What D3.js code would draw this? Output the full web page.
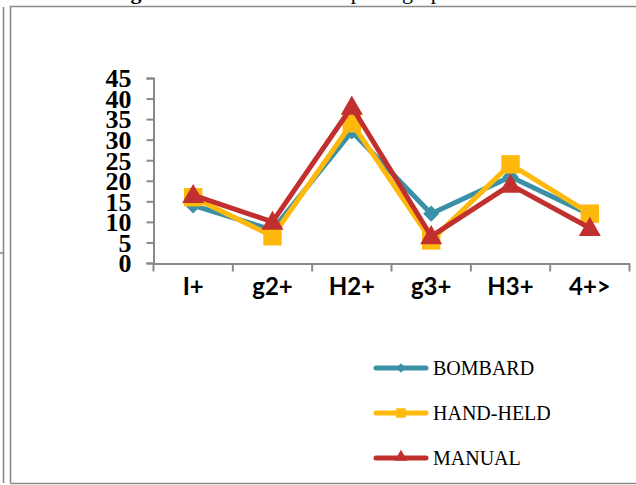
<!DOCTYPE html>
<html>
<head>
<meta charset="utf-8">
<script src="https://cdn.jsdelivr.net/npm/d3@7"></script>
<style>
  html, body { margin: 0; padding: 0; background: #fff; }
  svg { display: block; }
</style>
</head>
<body>
<svg id="chart" width="636" height="485"></svg>
<script>
// ---- data ----
const categories = ["I+", "g2+", "H2+", "g3+", "H3+", "4+>"];
const bombard   = [14, 8, 32, 12, 21, 11.8];
const handHeld  = [16, 6.5, 34, 5.5, 24, 12];
const manual    = [16.5, 10, 38, 6.5, 19, 8.5];
const seriesNames = ["BOMBARD", "HAND-HELD", "MANUAL"];
const yTicks = [0, 5, 10, 15, 20, 25, 30, 35, 40, 45];
const titleRegular = "Table 3: ";
const titleBold = "Long";
const titleRest = " effects of methods on spotting Species";

// ---- styles ----
const colors = ["#3A91A7", "#FFB90C", "#C1302E"];
const shapes = [d3.symbolSquare, d3.symbolSquare, d3.symbolTriangle];
const rotations = [45, 0, 0];
const seriesData = [bombard, handHeld, manual];

const svg = d3.select("#chart");

// page frame lines
const frame = svg.append("g").attr("stroke", "#8a8a8a").attr("stroke-width", 1.6).attr("fill", "none");
frame.append("line").attr("x1", 3.5).attr("y1", 7).attr("x2", 3.5).attr("y2", 483);
frame.append("line").attr("x1", 0).attr("y1", 253).attr("x2", 4).attr("y2", 253);
frame.append("path").attr("d", "M10.5,483.5 V6.5 H640 M10.5,483.5 H640");

// cut-off title (only its lowest pixels show)
const title = svg.append("text")
  .attr("x", 16).attr("y", -1.5)
  .attr("font-family", "Liberation Serif, Times New Roman, serif")
  .attr("font-size", 22)
  .attr("fill", "#000");
title.append("tspan").text(titleRegular);
title.append("tspan").attr("font-weight", "bold").text(titleBold);
title.append("tspan").text(titleRest);

// scales
const x = d3.scaleBand().domain(categories).range([153.5, 629.5]).padding(0);
const y = d3.scaleLinear().domain([0, 45]).range([263, 78]);

// y axis
const yAxis = svg.append("g").attr("transform", "translate(153.5,0)")
  .call(d3.axisLeft(y).tickValues(yTicks).tickSize(7).tickPadding(15).tickFormat(d3.format("d")));
yAxis.select(".domain").attr("stroke", "#898989").attr("stroke-width", 2);
yAxis.selectAll(".tick line").attr("stroke", "#898989").attr("stroke-width", 2);
yAxis.selectAll(".tick text")
  .attr("font-family", "Liberation Serif, Times New Roman, serif")
  .attr("font-weight", "bold")
  .attr("font-size", 26)
  .attr("fill", "#000")
  .attr("dy", "0.34em");

// x axis
const xAxis = svg.append("g").attr("transform", "translate(0,263.5)")
  .call(d3.axisBottom(x).tickSize(0).tickPadding(0).tickSizeOuter(0));
xAxis.select(".domain").attr("stroke", "#898989").attr("stroke-width", 2);
xAxis.selectAll(".tick line").remove();
const bounds = categories.map(c => x(c)).concat([x.range()[1]]);
xAxis.selectAll(".bt").data(bounds).enter().append("line")
  .attr("x1", d => d).attr("x2", d => d).attr("y1", 0).attr("y2", 8)
  .attr("stroke", "#898989").attr("stroke-width", 2);
xAxis.selectAll(".tick text")
  .attr("y", 31)
  .attr("dy", 0)
  .attr("font-family", "Lato, Open Sans, sans-serif")
  .attr("font-weight", "bold")
  .attr("font-size", 24)
  .attr("fill", "#000");

// series
const cx = c => x(c) + x.bandwidth() / 2;
const line = d3.line().x((d, i) => cx(categories[i])).y(d => y(d));
const markerSizes = [130, 340, 210];

seriesData.forEach((vals, s) => {
  const g = svg.append("g");
  g.append("path").datum(vals)
    .attr("d", line)
    .attr("fill", "none")
    .attr("stroke", colors[s])
    .attr("stroke-width", 5)
    .attr("stroke-linejoin", "round");
  g.selectAll("path.m").data(vals).enter().append("path")
    .attr("class", "m")
    .attr("transform", (d, i) => `translate(${cx(categories[i])},${y(d) + (s === 2 ? 1.5 : 0)}) rotate(${rotations[s]})`)
    .attr("d", d3.symbol().type(shapes[s]).size(markerSizes[s]))
    .attr("fill", colors[s]);
});

// legend
const legendY = [368, 413, 458];
const legend = svg.append("g");
seriesNames.forEach((name, s) => {
  const g = legend.append("g").attr("transform", `translate(0,${legendY[s]})`);
  g.append("line").attr("x1", 376).attr("x2", 426).attr("y1", 0).attr("y2", 0)
    .attr("stroke", colors[s]).attr("stroke-width", 5).attr("stroke-linecap", "round");
  g.append("path").attr("transform", `translate(401,${s === 2 ? -1 : 0}) rotate(${rotations[s]})`)
    .attr("d", d3.symbol().type(shapes[s]).size([45, 90, 70][s]))
    .attr("fill", colors[s]);
  g.append("text").attr("x", 433).attr("y", 6.8)
    .attr("font-family", "Liberation Serif, Times New Roman, serif")
    .attr("font-size", 20)
    .attr("fill", "#000")
    .text(name);
});
</script>
</body>
</html>
